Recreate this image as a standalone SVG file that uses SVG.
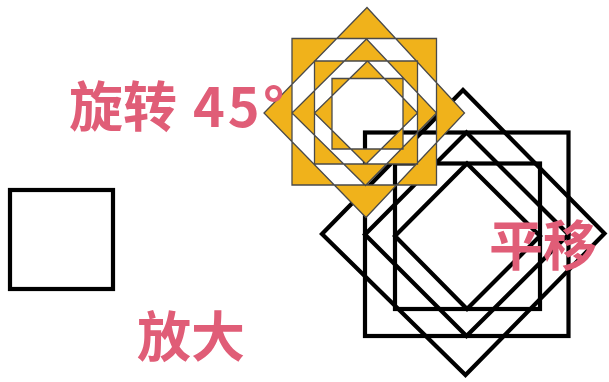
<svg xmlns="http://www.w3.org/2000/svg" width="609" height="382" viewBox="0 0 609 382">
<style>
.blk{fill:none;stroke:#000;stroke-width:4.2}
.lbl{fill:#E05D77;font-family:"Noto Sans CJK SC","Noto Sans",sans-serif;font-weight:bold;font-size:54px}
</style>
<rect width="609" height="382" fill="#fff"/>
<g id="original">
<rect class="blk" x="10" y="190" width="103" height="99"/>
</g>
<g id="translated">
<polygon class="blk" points="463,90 604.5,233.5 465.5,375 322,234"/>
<rect class="blk" x="365" y="132.5" width="203.5" height="203.5"/>
<polygon class="blk" points="466.5,132.5 568.5,234.5 466.5,336 365,234.5"/>
<rect class="blk" x="395" y="163.5" width="145" height="145.5"/>
<polygon class="blk" points="467,163.5 540,236 467,309 395,236"/>
</g>
<g id="rotated">
<path fill="#F0B21B" fill-rule="evenodd" stroke="#4a4a4a" stroke-width="1.3" stroke-linejoin="miter" d="M367,7.5 L464.5,113 L366,217.5 L264,113 Z M292,38.5 H436.5 V185 H292 Z M366.5,39 L436.5,113 L365.5,185.5 L292,113 Z M314.5,61 H417.5 V164 H314.5 Z M367.5,61 L417.5,113 L366,164 L314.5,113 Z M332,78.5 H403 V149 H332 Z"/>
</g>
<g id="labels">
<text class="lbl" x="69" y="127">旋转<tspan x="193" letter-spacing="3">45°</tspan></text>
<text class="lbl" x="489" y="266">平移</text>
<text class="lbl" x="137" y="357">放大</text>
</g>
</svg>
